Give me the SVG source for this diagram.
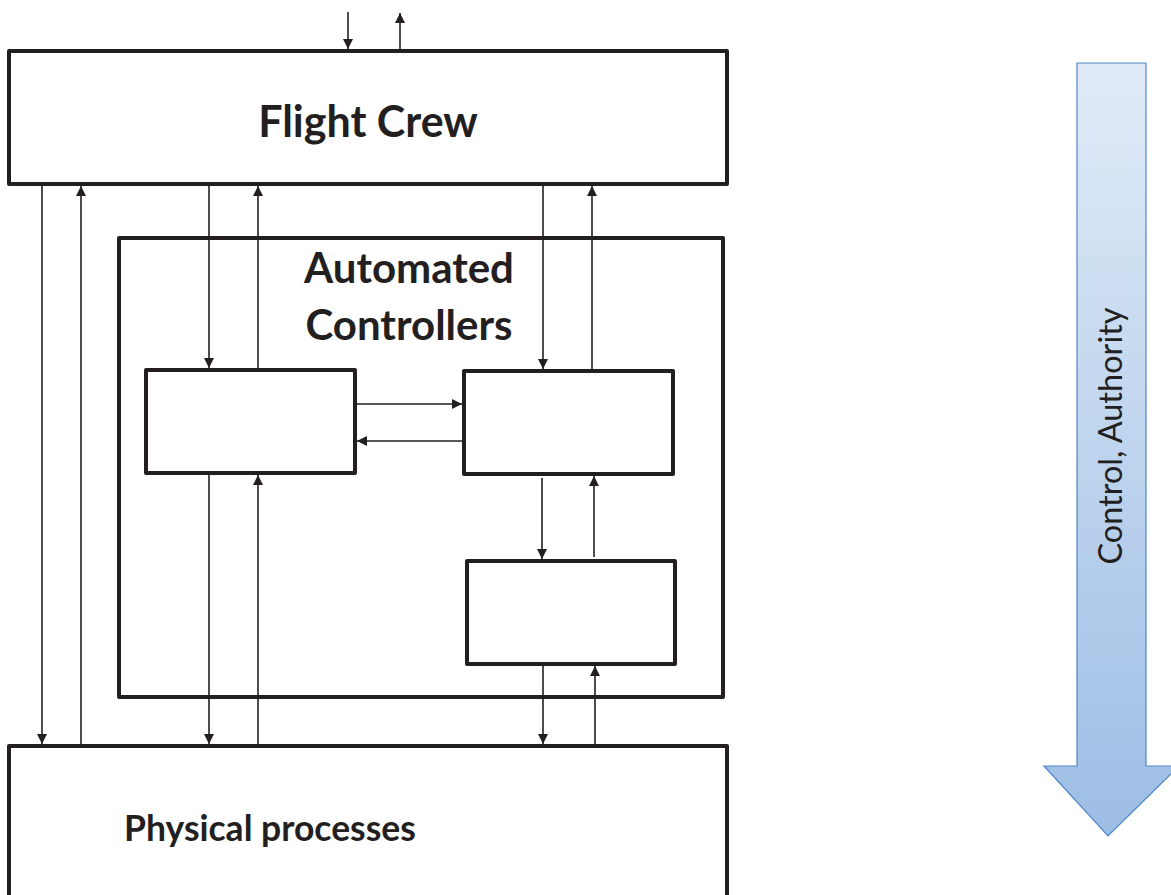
<svg xmlns="http://www.w3.org/2000/svg" width="1171" height="895" viewBox="0 0 1171 895">
<defs>
<marker id="ah" viewBox="0 0 10 10" refX="10" refY="5" markerWidth="10" markerHeight="10" markerUnits="userSpaceOnUse" orient="auto">
<path d="M0,0 L10,5 L0,10 Z" fill="#231f20"/>
</marker>
<linearGradient id="grad" x1="0" y1="0" x2="0" y2="1">
<stop offset="0" stop-color="#e1ebf7"/>
<stop offset="1" stop-color="#9cbde5"/>
</linearGradient>
<style>
.box{fill:#fff;stroke:#231f20;stroke-width:4;stroke-linejoin:round}
.ln{stroke:#231f20;stroke-width:1.6;fill:none}
.lbl{font-family:Lato,"Open Sans",sans-serif;font-weight:bold;fill:#231f20;text-anchor:middle}
</style>
</defs>
<rect width="1171" height="895" fill="#fff"/>
<g id="physical">
<rect class="box" x="9" y="746" width="718" height="160"/>
<text class="lbl" x="270" y="841" font-size="35.5">Physical processes</text>
</g>
<g id="automated">
<rect class="box" x="119" y="238" width="604" height="459"/>
<text class="lbl" x="409" y="283" font-size="42">Automated</text>
<text class="lbl" x="409" y="340" font-size="42">Controllers</text>
</g>
<g id="flightcrew">
<rect class="box" x="9" y="51" width="718" height="133"/>
<text class="lbl" x="368" y="137" font-size="43">Flight Crew</text>
</g>
<g id="ctrlA"><rect class="box" x="146" y="370" width="209" height="103"/></g>
<g id="ctrlB"><rect class="box" x="464" y="371" width="209" height="103"/></g>
<g id="ctrlC"><rect class="box" x="467" y="561" width="208" height="103"/></g>
<g id="connectors">
<line class="ln" x1="348" y1="12" x2="348" y2="49" marker-end="url(#ah)"/>
<line class="ln" x1="400" y1="51" x2="400" y2="13" marker-end="url(#ah)"/>
<line class="ln" x1="42" y1="184" x2="42" y2="744" marker-end="url(#ah)"/>
<line class="ln" x1="81" y1="746" x2="81" y2="186" marker-end="url(#ah)"/>
<line class="ln" x1="209" y1="184" x2="209" y2="368" marker-end="url(#ah)"/>
<line class="ln" x1="258" y1="370" x2="258" y2="186" marker-end="url(#ah)"/>
<line class="ln" x1="209" y1="475" x2="209" y2="744" marker-end="url(#ah)"/>
<line class="ln" x1="258" y1="746" x2="258" y2="475" marker-end="url(#ah)"/>
<line class="ln" x1="543" y1="184" x2="543" y2="369" marker-end="url(#ah)"/>
<line class="ln" x1="592" y1="371" x2="592" y2="186" marker-end="url(#ah)"/>
<line class="ln" x1="357" y1="404" x2="462" y2="404" marker-end="url(#ah)"/>
<line class="ln" x1="462" y1="441" x2="357" y2="441" marker-end="url(#ah)"/>
<line class="ln" x1="542" y1="478" x2="542" y2="559" marker-end="url(#ah)"/>
<line class="ln" x1="594" y1="557" x2="594" y2="476" marker-end="url(#ah)"/>
<line class="ln" x1="543" y1="666" x2="543" y2="744" marker-end="url(#ah)"/>
<line class="ln" x1="595" y1="746" x2="595" y2="666" marker-end="url(#ah)"/>
</g>
<g id="authority">
<path d="M1077,63 L1146,63 L1146,766 L1179,766 L1108,836 L1044,766 L1077,766 Z" fill="url(#grad)" stroke="#4f86c6" stroke-width="1.2"/>
<text x="0" y="0" transform="translate(1122,436) rotate(-90)" font-family="Lato,'Open Sans',sans-serif" font-size="32.5" fill="#231f20" text-anchor="middle">Control, Authority</text>
</g>
</svg>
